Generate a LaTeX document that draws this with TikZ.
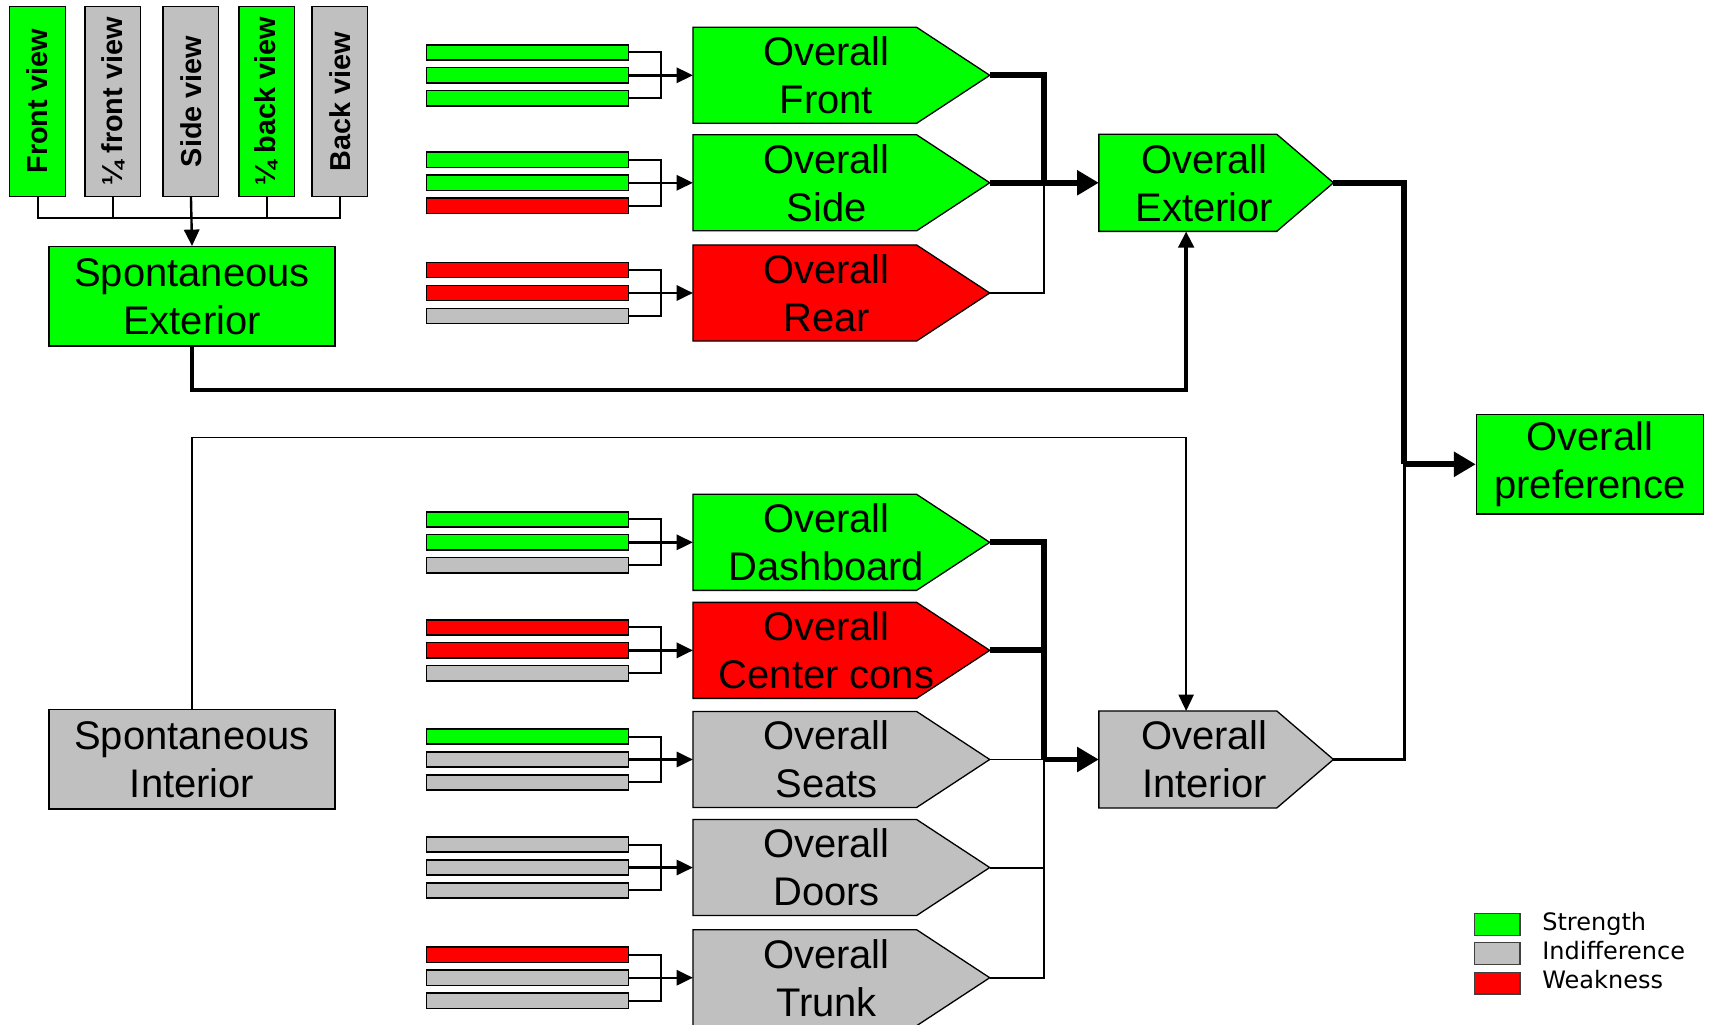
\documentclass[tikz,border=0pt]{standalone}
\usepackage{fontspec}
\setmainfont{Liberation Sans}
\newfontfamily\legendfont{DejaVu Sans}
\usetikzlibrary{arrows.meta}

\definecolor{sgreen}{HTML}{00FF00}
\definecolor{sred}{HTML}{FF0000}
\definecolor{sgray}{HTML}{C0C0C0}

\tikzset{
  plainbox/.style={draw=black, line width=0.6pt, inner sep=0pt, align=center,
    minimum width=131pt, minimum height=45.5pt, font=\fontsize{18.3}{22}\selectfont},
  viewbox/.style={draw=black, line width=0.6pt, inner sep=0pt,
    minimum width=25.5pt, minimum height=87pt, font=\bfseries\fontsize{13.2}{15}\selectfont},
  barbox/.style={draw=black, line width=0.7pt, inner sep=0pt,
    minimum width=92.5pt, minimum height=7pt},
  outline/.style={draw=black, line width=0.6pt},
  labeltext/.style={inner sep=0pt, align=center, font=\fontsize{18.3}{22}\selectfont},
  hairwire/.style={line width=0.7pt},
  wire/.style={line width=0.9pt},
  midwire/.style={line width=1.1pt},
  strongwire/.style={line width=2pt},
  heavywire/.style={line width=2.7pt},
  headarrow/.style={-{Triangle[length=7.5pt,width=7pt]}},
  bighead/.style={-{Triangle[length=10pt,width=11pt]}},
  legendbox/.style={draw=black!75, line width=0.6pt, minimum width=21pt,
    minimum height=10pt, inner sep=0pt},
  legendtext/.style={anchor=mid west, inner sep=0pt,
    font=\legendfont\fontsize{11}{13}\selectfont},
}

% #1 name, #2 left x, #3 centre y, #4 flat length, #5 point length,
% #6 half height, #7 fill, #8 label
\newcommand\pentagonbox[8]{%
  \path[outline, fill=#7] (#2,#3-#6) -- ++(#4,0) -- ++(#5,#6)
    -- ++(-#5,#6) -- ++(-#4,0) -- cycle;
  \node[labeltext] (#1) at ({#2+0.45*(#4+#5)},#3) {#8};
  \coordinate (#1-in) at (#2,#3);
  \coordinate (#1-tip) at ({#2+#4+#5},#3);
}

% #1 prefix, #2 centre y, #3 #4 #5 fills, #6 target shape
\newcommand\bargroup[6]{%
  \node[barbox, fill=#3] (#1a) at (483.5,#2-21) {};
  \node[barbox, fill=#4] (#1b) at (483.5,#2) {};
  \node[barbox, fill=#5] (#1c) at (483.5,#2+21) {};
  \draw[wire] (#1a.east) -- ++(29,0) |- (#1c.east);
  \draw[midwire, headarrow] (#1b.east) -- (#6-in);
}

\begin{document}
\begin{tikzpicture}[x=0.5pt, y=-0.5pt]
\useasboundingbox (0,0) rectangle (1568,939);
\fill[white] (0,0) rectangle (1568,939);

% view ratings
\node[viewbox, fill=sgreen] (v1) at (34.5,93) {\rotatebox{90}{Front view}};
\node[viewbox, fill=sgray]  (v2) at (103.5,93) {\rotatebox{90}{¼ front view}};
\node[viewbox, fill=sgray]  (v3) at (175,93) {\rotatebox{90}{Side view}};
\node[viewbox, fill=sgreen] (v4) at (244.5,93) {\rotatebox{90}{¼ back view}};
\node[viewbox, fill=sgray]  (v5) at (311.5,93) {\rotatebox{90}{Back view}};

\node[plainbox, fill=sgreen] (spext) at (176,271.5) {Spontaneous\\Exterior};
\node[plainbox, fill=sgray]  (spint) at (176,696) {Spontaneous\\Interior};
\node[plainbox, minimum width=104pt, fill=sgreen] (pref) at (1457,425.5) {Overall\\preference};

\coordinate (hub) at (175,200);
\draw[wire] (v1.south) |- (hub) -| (v5.south);
\draw[wire] (v2.south) -- (v2.south |- hub);
\draw[wire] (v4.south) -- (v4.south |- hub);
\draw[midwire, headarrow] (v3.south) -- (spext.north);

% exterior branch
\pentagonbox{front}{635}{69}{205}{67}{44}{sgreen}{Overall\\Front}
\pentagonbox{side}{635}{167.5}{205}{67}{44}{sgreen}{Overall\\Side}
\pentagonbox{rear}{635}{268.5}{205}{67}{44}{sred}{Overall\\Rear}
\pentagonbox{ext}{1007}{167.5}{163}{52}{44.5}{sgreen}{Overall\\Exterior}

\bargroup{fr}{69}{sgreen}{sgreen}{sgreen}{front}
\bargroup{sd}{167.5}{sgreen}{sgreen}{sred}{side}
\bargroup{rr}{268.5}{sred}{sred}{sgray}{rear}

% interior branch
\pentagonbox{dash}{635}{497}{205}{67}{44}{sgreen}{Overall\\Dashboard}
\pentagonbox{cc}{635}{596}{205}{67}{44}{sred}{Overall\\Center cons}
\pentagonbox{seat}{635}{696}{205}{67}{44}{sgray}{Overall\\Seats}
\pentagonbox{door}{635}{795}{205}{67}{44}{sgray}{Overall\\Doors}
\pentagonbox{trunk}{635}{896}{205}{67}{44}{sgray}{Overall\\Trunk}
\pentagonbox{int}{1007}{696}{163}{52}{44.5}{sgray}{Overall\\Interior}

\bargroup{db}{497}{sgreen}{sgreen}{sgray}{dash}
\bargroup{cn}{596}{sred}{sred}{sgray}{cc}
\bargroup{st}{696}{sgreen}{sgray}{sgray}{seat}
\bargroup{dr}{795}{sgray}{sgray}{sgray}{door}
\bargroup{tk}{896}{sred}{sgray}{sgray}{trunk}

% joins
\coordinate (joinE) at (957,167.5);
\coordinate (joinI) at (957,696);
\coordinate (joinP) at (1287,425.5);
\coordinate (ext-b) at (1087,212);
\coordinate (int-t) at (1087,651.5);

\draw[wire] (rear-tip) -| (joinE);
\draw[heavywire] (front-tip) -| (joinE);
\draw[heavywire] (side-tip) -- (joinE);
\draw[heavywire, bighead] (joinE) -- (ext-in);

\draw[wire] (trunk-tip) -| (joinI);
\draw[wire] (door-tip) -- (door-tip -| joinI);
\draw[wire] (seat-tip) -- (joinI);
\draw[heavywire] (dash-tip) -| (joinI);
\draw[heavywire] (cc-tip) -- (cc-tip -| joinI);
\draw[heavywire, bighead] (joinI) -- (int-in);

\draw[strongwire, headarrow] (spext.south) -- ++(0,40) -| (ext-b);
\draw[hairwire, headarrow] (spint.north) -- ++(0,-249) -| (int-t);

\draw[line width=1.2pt] (int-tip) -| (joinP);
\draw[heavywire] (ext-tip) -| (joinP);
\draw[heavywire, bighead] (joinP) -- (pref.west);

% legend
\node[legendbox, fill=sgreen] (k1) at (1372,847) {};
\node[legendbox, fill=sgray]  (k2) at (1372,874) {};
\node[legendbox, fill=sred]   (k3) at (1372,901) {};
\node[legendtext] (t1) at (1413,847) {Strength};
\node[legendtext] (t2) at (1413,874) {Indifference};
\node[legendtext] (t3) at (1413,901) {Weakness};
\end{tikzpicture}
\end{document}
